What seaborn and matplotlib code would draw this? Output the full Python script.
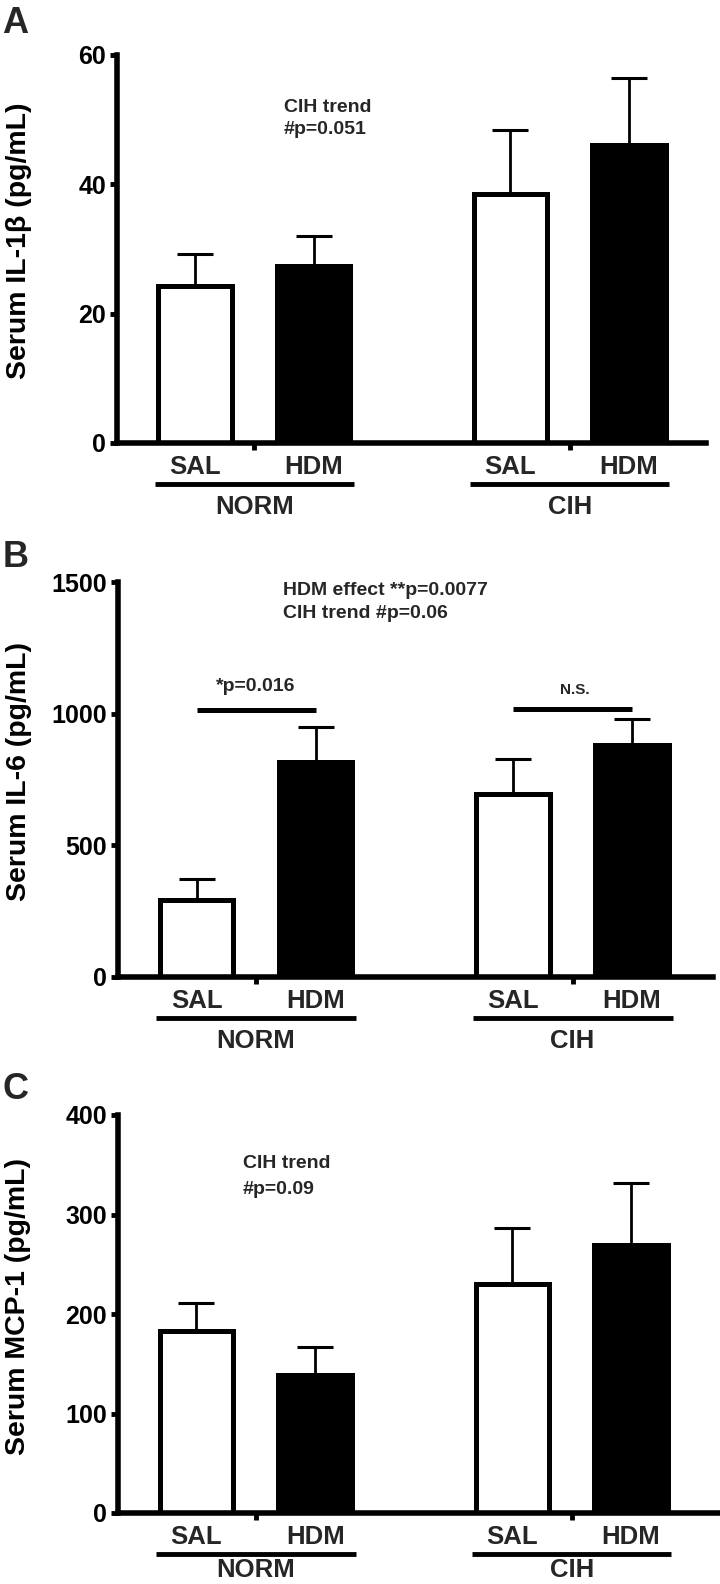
"""Serum cytokines (IL-1b, IL-6, MCP-1) by exposure and treatment, three stacked bar panels."""
import numpy as np
import matplotlib
matplotlib.use("Agg")
import matplotlib.pyplot as plt
import matplotlib.transforms as mtransforms
import seaborn as sns

# bar order: NORM-SAL, NORM-HDM, CIH-SAL, CIH-HDM
treatments = ["SAL", "HDM", "SAL", "HDM"]
conditions = ["NORM", "CIH"]

il1b_mean = [24.3, 27.4, 38.5, 46.1]
il1b_sem = [4.9, 4.6, 9.9, 10.4]

il6_mean = [291, 816, 696, 880]
il6_sem = [82, 133, 133, 101]

mcp1_mean = [183, 139, 230, 269]
mcp1_sem = [28, 28, 56, 63]

sns.set_theme(style="ticks")
plt.rcParams["font.family"] = ["Liberation Sans", "DejaVu Sans"]
plt.rcParams["font.weight"] = "bold"

x_pos = [0, 1, 2.66, 3.66]
group_centers = [0.5, 3.16]
W, H = 720, 1584

fig = plt.figure(figsize=(W / 100, H / 100), dpi=100)


def rect(left, right, top, bottom):
    return [left / W, 1 - bottom / H, (right - left) / W, (bottom - top) / H]


def below(ax, px):
    return mtransforms.offset_copy(ax.get_xaxis_transform(), fig=fig, y=-px, units="dots")


def draw_panel(ax, mean, sem, ymax, yticks, ylabel, xmax, group_off=71):
    sns.barplot(x=x_pos, y=mean, hue=treatments, palette={"SAL": "white", "HDM": "black"},
                native_scale=True, dodge=False, width=0.62, saturation=1,
                edgecolor="black", linewidth=3.6, errorbar=None, legend=False, ax=ax)
    ax.errorbar(x_pos, mean, yerr=[np.zeros(len(mean)), sem], fmt="none",
                ecolor="black", elinewidth=2, capsize=13, capthick=2.2, zorder=0.5)

    # treatment labels, group underline and group names under the axis
    for x, t in zip(x_pos, treatments):
        ax.text(x, 0, t, transform=below(ax, 31), ha="center", va="baseline", fontsize=18.5)
    for i, g in enumerate(conditions):
        x0, x1 = x_pos[2 * i] - 0.34, x_pos[2 * i + 1] + 0.34
        ax.plot([x0, x1], [0, 0], transform=below(ax, 41), color="black", lw=3.5,
                clip_on=False, solid_capstyle="butt")
        ax.text(group_centers[i], 0, g, transform=below(ax, group_off), ha="center",
                va="baseline", fontsize=18.5)

    ax.set_xlim(-0.66, xmax)
    ax.set_ylim(0, ymax)
    ax.set_yticks(yticks)
    ax.set_xticks(group_centers)
    ax.set_xticklabels([])
    ax.set_xlabel("")
    ax.tick_params(axis="y", length=5, width=3.5, labelsize=18, pad=3, colors="black")
    ax.tick_params(axis="x", length=5, width=3.5, colors="black")
    sns.despine(ax=ax)
    for s in ["left", "bottom"]:
        ax.spines[s].set_linewidth(4)
        ax.spines[s].set_color("black")
    ax.set_ylabel(ylabel, fontsize=20.5, fontweight="bold", color="black")
    ax.yaxis.set_label_coords(-0.145, 0.52)


# A: IL-1beta
axA = fig.add_axes(rect(117, 706, 55, 443))
draw_panel(axA, il1b_mean, il1b_sem, 60, [0, 20, 40, 60], "Serum IL-1β (pg/mL)", 4.31)
axA.text(0.75, 51.9, "CIH trend", ha="left", va="center", fontsize=14)
axA.text(0.75, 48.5, "#p=0.051", ha="left", va="center", fontsize=14)

# B: IL-6
axB = fig.add_axes(rect(118, 713, 582, 977))
draw_panel(axB, il6_mean, il6_sem, 1500, [0, 500, 1000, 1500], "Serum IL-6 (pg/mL)", 4.34)
axB.text(0.73, 1468, "HDM effect **p=0.0077", ha="left", va="center", fontsize=14)
axB.text(0.73, 1380, "CIH trend #p=0.06", ha="left", va="center", fontsize=14)
axB.plot([x_pos[0], x_pos[1]], [1015, 1015], color="black", lw=3.6, solid_capstyle="butt")
axB.plot([x_pos[2], x_pos[3]], [1018, 1018], color="black", lw=3.6, solid_capstyle="butt")
axB.text(0.5, 1103, "*p=0.016", ha="center", va="center", fontsize=14)
axB.text(3.18, 1089, "N.S.", ha="center", va="center", fontsize=11)

# C: MCP-1
axC = fig.add_axes(rect(118, 719, 1115, 1513))
draw_panel(axC, mcp1_mean, mcp1_sem, 400, [0, 100, 200, 300, 400], "Serum MCP-1 (pg/mL)", 4.40,
           group_off=64)
axC.text(0.39, 351, "CIH trend", ha="left", va="center", fontsize=14)
axC.text(0.39, 325, "#p=0.09", ha="left", va="center", fontsize=14)

for letter, base in [("A", 33), ("B", 567), ("C", 1099)]:
    fig.text(0.003, 1 - base / H, letter, ha="left", va="baseline", fontsize=26, fontweight="bold")

fig.savefig("out.png", dpi=100, facecolor="white")
